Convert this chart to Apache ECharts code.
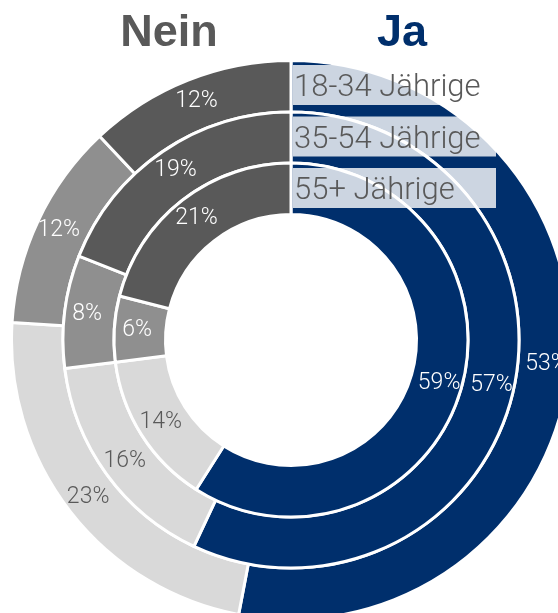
<!DOCTYPE html>
<html>
<head>
<meta charset="UTF-8">
<title>Ja / Nein nach Alter</title>
<script src="https://cdn.jsdelivr.net/npm/echarts@6/dist/echarts.min.js"></script>
<style>
  html, body { margin: 0; padding: 0; background: #fff; }
  #main { width: 558px; height: 613px; }
</style>
</head>
<body>
<div id="main"></div>
<script>
// answer categories, clockwise from 12 o'clock
var answers = ['Ja', 'Nein (hell)', 'Nein (mittel)', 'Nein (dunkel)'];
var colors = ['#002f6c', '#d9d9d9', '#8f8f8f', '#595959'];
// ring labels, outer ring first
var groups = ['18-34 Jährige', '35-54 Jährige', '55+ Jährige'];
// percentages per ring
var young = [53, 23, 12, 12];
var middle = [57, 16, 8, 19];
var old = [59, 14, 6, 21];

var cx = 291, cy = 340;
var rings = [[228, 279.5], [177, 228], [125.5, 177]];
var ringData = [young, middle, old];

var myChart = echarts.init(document.getElementById('main'));

var series = [];
for (var i = 0; i < ringData.length; i++) {
    series.push({
        type: 'pie',
        name: groups[i],
        center: [cx, cy],
        radius: rings[i],
        startAngle: 90,
        clockwise: true,
        silent: true,
        animation: false,
        labelLine: { show: false },
        label: {
            show: true,
            position: 'inside',
            formatter: '{c}%',
            fontFamily: 'Roboto',
            fontWeight: 300,
            fontSize: 23,
            color: '#fff'
        },
        itemStyle: { borderColor: '#fff', borderWidth: 3 },
        data: ringData[i].map(function (v, j) {
            return {
                name: answers[j],
                value: v,
                itemStyle: { color: colors[j] },
                label: { color: j == 1 ? '#595959' : '#fff' }
            };
        })
    });
}

// white translucent boxes with the age group names
var graphics = [];
for (var k = 0; k < groups.length; k++) {
    graphics.push({
        type: 'rect',
        left: 293,
        top: 65 + k * 51.5,
        z: 10,
        shape: { width: 203, height: 40 },
        style: { fill: 'rgba(255,255,255,0.8)' }
    });
    graphics.push({
        type: 'text',
        left: 294,
        top: 73 + k * 51.5,
        z: 11,
        style: {
            text: groups[k],
            fill: '#595959',
            font: '300 31px Roboto'
        }
    });
}

var option = {
    backgroundColor: '#fff',
    title: [
        {
            text: 'Nein',
            left: 164, top: 6, textAlign: 'center',
            textStyle: { color: '#595959', fontSize: 45, fontWeight: 'bold', fontFamily: 'Liberation Sans' }
        },
        {
            text: 'Ja',
            left: 397, top: 6, textAlign: 'center',
            textStyle: { color: '#002f6c', fontSize: 45, fontWeight: 'bold', fontFamily: 'Liberation Sans' }
        }
    ],
    graphic: graphics,
    series: series
};

myChart.setOption(option);
</script>
</body>
</html>
